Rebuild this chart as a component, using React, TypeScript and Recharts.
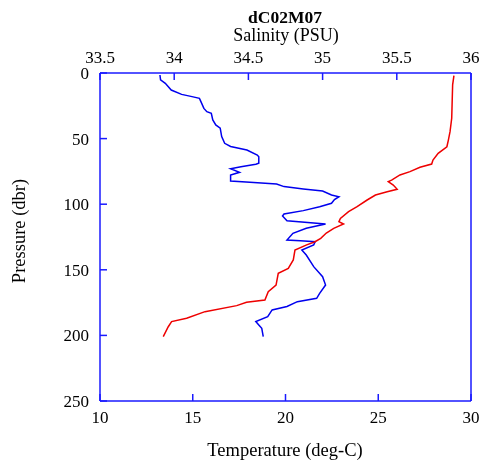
import { ScatterChart, Scatter, XAxis, YAxis } from "recharts";

// salinity profile (blue, top axis)
const salPressure = [1.5, 5.3, 7.9, 13, 16.3, 18, 19.3, 21.8, 27, 29.5, 30.7, 35.8, 39.6, 42, 48.5, 53.6, 56, 58.7, 62.5, 63.8, 68.8, 69.6, 71.4, 73, 75.7, 77.7, 82.3, 83.3, 84.6, 86.6, 88.4, 90, 93, 94.3, 96.5, 99.3, 101.9, 104.9, 107.5, 109, 112.6, 115.1, 118.4, 122.2, 127.3, 127.8, 128.6, 131, 134.9, 138.7, 147.6, 155.3, 161.6, 168, 171.7, 174.3, 178, 180.6, 185.7, 189.5, 192, 194.6, 200.9];
const salinity = [33.904, 33.908, 33.94, 33.98, 34.05, 34.12, 34.17, 34.18, 34.2, 34.22, 34.25, 34.26, 34.28, 34.31, 34.32, 34.34, 34.38, 34.49, 34.56, 34.57, 34.57, 34.55, 34.45, 34.38, 34.44, 34.38, 34.38, 34.51, 34.69, 34.74, 34.87, 35.0, 35.06, 35.11, 35.08, 35.06, 34.98, 34.87, 34.74, 34.73, 34.76, 35.02, 34.89, 34.8, 34.76, 34.85, 34.95, 34.94, 34.86, 34.89, 34.94, 35.0, 35.02, 34.98, 34.96, 34.83, 34.76, 34.66, 34.63, 34.55, 34.57, 34.59, 34.6];

// temperature profile (red, bottom axis)
const tempPressure = [2, 9, 24.4, 34.5, 44.7, 51.1, 56.2, 61.2, 66.3, 69.4, 71.9, 75.2, 77.7, 81.6, 82.8, 85.4, 88.6, 90.5, 93, 96.8, 101.9, 105.7, 110.8, 113.3, 115.1, 118.4, 122, 126, 128.6, 131, 135, 142.5, 148.9, 152.7, 161.6, 166.7, 173, 174.8, 177.3, 181.9, 186.9, 189.5, 193.4, 200.9];
const temperature = [29.08, 29.01, 28.98, 28.96, 28.87, 28.78, 28.7, 28.23, 27.95, 27.88, 27.25, 26.71, 26.17, 25.72, 25.54, 25.81, 26.02, 25.48, 24.85, 24.4, 23.86, 23.4, 22.96, 22.88, 23.13, 22.6, 22.2, 21.9, 21.59, 21.14, 20.51, 20.42, 20.15, 19.61, 19.49, 19.07, 18.89, 17.9, 17.37, 15.66, 14.67, 13.86, 13.68, 13.41];

const tempTicks = [10, 15, 20, 25, 30];
const salTicks = [33.5, 34, 34.5, 35, 35.5, 36];
const pressureTicks = [0, 50, 100, 150, 200, 250];

const salData = salPressure.map((p, i) => ({ p, s: salinity[i] }));
const tempData = tempPressure.map((p, i) => ({ p, t: temperature[i] }));

const AXIS = "#1a1aff";
const FONT = "'Liberation Serif', 'Times New Roman', serif";
const tickStyle = { fill: "#000", fontSize: 17, fontFamily: FONT };

const noDot = () => <g />;

export default function App() {
  return (
    <div style={{ position: "fixed", left: 0, top: 0, width: 485, height: 465 }}>
      <ScatterChart width={485} height={465} margin={{ top: 0, right: 0, bottom: 0, left: 0 }}>
        <XAxis
          xAxisId="temp"
          type="number"
          dataKey="t"
          orientation="bottom"
          domain={[10, 30]}
          ticks={tempTicks}
          allowDataOverflow
          height={64}
          tickSize={-7}
          tickMargin={17}
          stroke={AXIS}
          strokeWidth={1.5}
          tick={tickStyle}
        />
        <XAxis
          xAxisId="sal"
          type="number"
          dataKey="s"
          orientation="top"
          domain={[33.5, 36]}
          ticks={salTicks}
          allowDataOverflow
          height={73}
          tickSize={-7}
          tickMargin={17}
          stroke={AXIS}
          strokeWidth={1.5}
          tick={tickStyle}
        />
        <YAxis
          yAxisId="left"
          type="number"
          dataKey="p"
          domain={[0, 250]}
          ticks={pressureTicks}
          reversed
          allowDataOverflow
          width={100}
          tickSize={-7}
          tickMargin={18}
          stroke={AXIS}
          strokeWidth={1.5}
          tick={tickStyle}
        />
        <YAxis
          yAxisId="right"
          type="number"
          orientation="right"
          domain={[0, 250]}
          ticks={pressureTicks}
          reversed
          width={14}
          tickSize={-7}
          stroke={AXIS}
          strokeWidth={1.5}
          tick={false}
        />
        <Scatter
          data={salData}
          xAxisId="sal"
          yAxisId="left"
          shape={noDot}
          line={{ stroke: "#0000ee", strokeWidth: 1.5 }}
          lineType="joint"
          isAnimationActive={false}
        />
        <Scatter
          data={tempData}
          xAxisId="temp"
          yAxisId="left"
          shape={noDot}
          line={{ stroke: "#ee0000", strokeWidth: 1.5 }}
          lineType="joint"
          isAnimationActive={false}
        />
      </ScatterChart>
      <svg
        width={485}
        height={465}
        style={{ position: "absolute", left: 0, top: 0, pointerEvents: "none" }}
        fontFamily={FONT}
      >
        <text x={285} y={22.5} textAnchor="middle" fontSize={17.5} fontWeight="bold">
          dC02M07
        </text>
        <text x={286} y={41} textAnchor="middle" fontSize={18}>
          Salinity (PSU)
        </text>
        <text x={285} y={455.5} textAnchor="middle" fontSize={18.5}>
          Temperature (deg-C)
        </text>
        <text x={25} y={231} textAnchor="middle" fontSize={18.5} transform="rotate(-90 25 231)">
          Pressure (dbr)
        </text>
      </svg>
    </div>
  );
}
